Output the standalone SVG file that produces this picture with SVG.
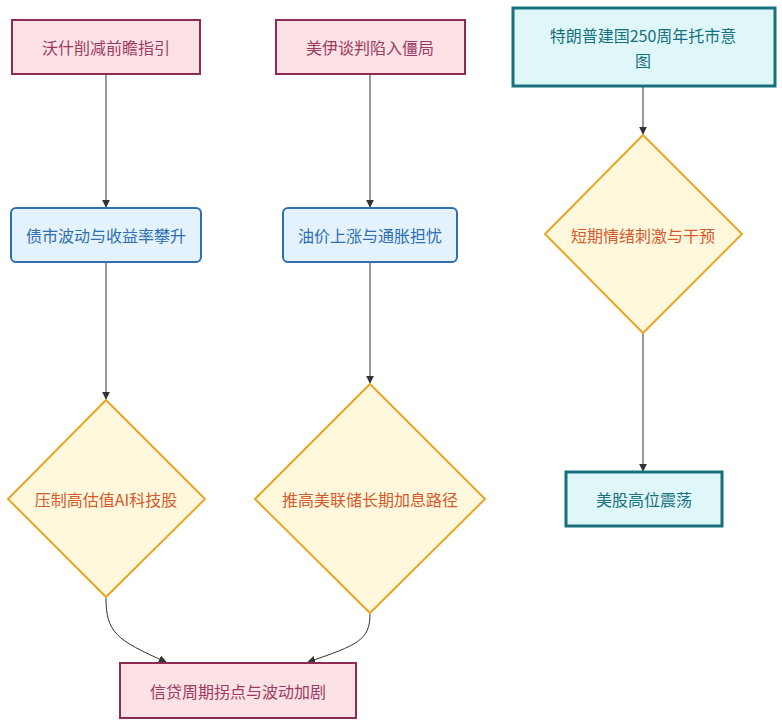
<svg xmlns="http://www.w3.org/2000/svg" width="782" height="726" viewBox="0 0 782 726">
<defs>
<marker id="arr" viewBox="0 0 10 10" refX="9" refY="5" markerWidth="8" markerHeight="8" markerUnits="userSpaceOnUse" orient="auto">
<path d="M0,0 L10,5 L0,10 z" fill="#333"/>
</marker>
<style>
text{font-family:"Noto Sans CJK SC","Liberation Sans",sans-serif;font-size:16px;text-anchor:middle;dominant-baseline:central}
.pink rect{fill:#fde2e5;stroke:#8e2a57;stroke-width:2}
.pink text{fill:#9c3a62}
.blue rect{fill:#e3f2fd;stroke:#2e6fad;stroke-width:2}
.blue text{fill:#2d6fb0}
.teal rect{fill:#e0f7fa;stroke:#17707d;stroke-width:3}
.teal text{fill:#17707d}
.dia polygon{fill:#fff8dc;stroke:#e8a628;stroke-width:2}
.dia text{fill:#d65a2c}
.edge{fill:none;stroke:#333;stroke-width:1;marker-end:url(#arr)}
</style>
</defs>
<rect width="782" height="726" fill="#fff"/>
<g id="edges">
<path class="edge" d="M106,74 L106,207"/>
<path class="edge" d="M370,74 L370,207"/>
<path class="edge" d="M106,262 L106,399"/>
<path class="edge" d="M370,262 L370,383"/>
<path class="edge" d="M643,87 L643,134"/>
<path class="edge" d="M643,333 L643,471"/>
<path class="edge" d="M106,598 C106,632 116,640 166,662"/>
<path class="edge" d="M370,614 C370,640 358,645 308,662"/>
</g>
<g id="n1" class="pink">
<rect x="12" y="20" width="188" height="54"/>
<text x="106" y="47">沃什削减前瞻指引</text>
</g>
<g id="n2" class="pink">
<rect x="276" y="20" width="189" height="54"/>
<text x="370" y="47">美伊谈判陷入僵局</text>
</g>
<g id="n3" class="teal">
<rect x="513" y="8" width="262" height="78"/>
<text x="643" y="35">特朗普建国250周年托市意</text>
<text x="643" y="60">图</text>
</g>
<g id="n4" class="blue">
<rect x="11" y="208" width="190" height="54" rx="5"/>
<text x="106" y="235">债市波动与收益率攀升</text>
</g>
<g id="n5" class="blue">
<rect x="283" y="208" width="174" height="54" rx="5"/>
<text x="370" y="235">油价上涨与通胀担忧</text>
</g>
<g id="n6" class="dia">
<polygon points="643,135 742,234 643,333 545,234"/>
<text x="643" y="235">短期情绪刺激与干预</text>
</g>
<g id="n7" class="teal">
<rect x="566" y="472" width="156" height="54"/>
<text x="644" y="499">美股高位震荡</text>
</g>
<g id="n8" class="dia">
<polygon points="106,400 205,499 106,597 8,499"/>
<text x="106" y="499">压制高估值AI科技股</text>
</g>
<g id="n9" class="dia">
<polygon points="370,384 485,499 370,613 255,499"/>
<text x="370" y="499">推高美联储长期加息路径</text>
</g>
<g id="n10" class="pink">
<rect x="120" y="663" width="236" height="55"/>
<text x="238" y="691">信贷周期拐点与波动加剧</text>
</g>
</svg>
